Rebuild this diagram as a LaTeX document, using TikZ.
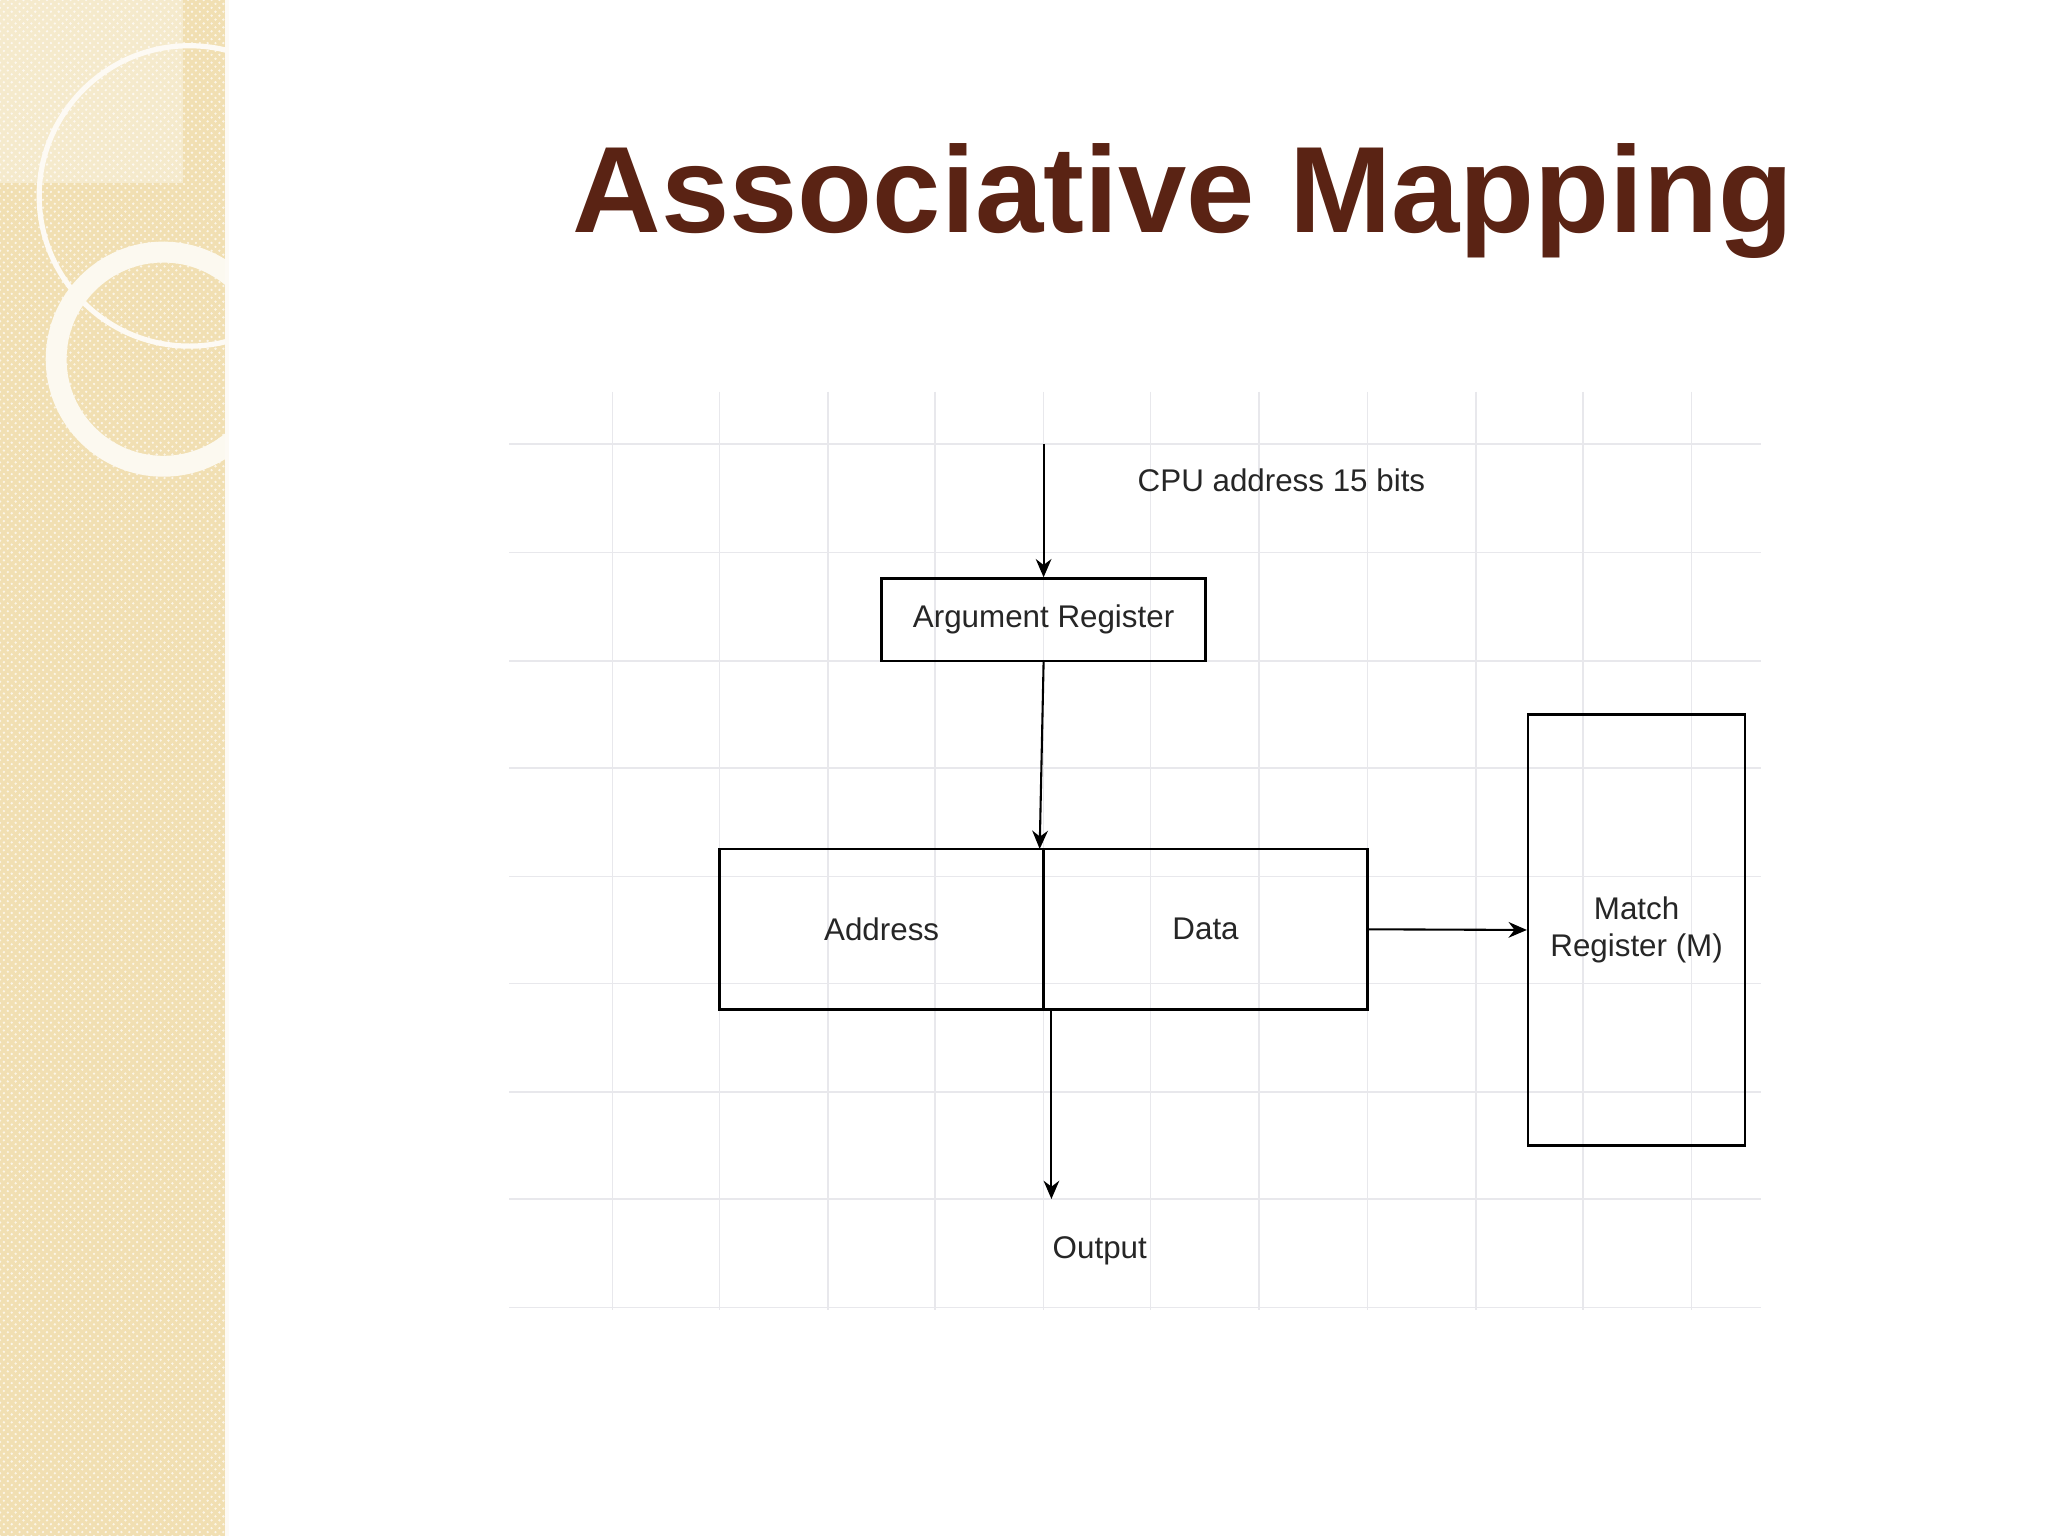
\documentclass[tikz,border=0pt]{standalone}
\usepackage{fontspec}
\setmainfont{Liberation Sans}
\usetikzlibrary{arrows.meta,patterns}
\definecolor{beige}{HTML}{F1DFB2}
\definecolor{titlec}{HTML}{5A2314}
\definecolor{gridc}{HTML}{E8E8EC}
\begin{document}
\begin{tikzpicture}[x=0.5pt,y=-0.5pt,
  box/.style={draw,line width=1pt,inner sep=0pt},
  arr/.style={-{Stealth[length=7pt,width=6pt]},line width=0.8pt},
  lbl/.style={font=\fontsize{12}{14}\selectfont,text=black!85}]
\useasboundingbox (0,0) rectangle (1568,1176);
\fill[white] (0,0) rectangle (1568,1176);
% left panel
\fill[beige] (0,0) rectangle (173,1176);
\fill[pattern=crosshatch dots,pattern color=white!70!beige] (0,0) rectangle (173,1176);
\fill[white,opacity=0.35] (0,0) rectangle (140,140);
\begin{scope}
\clip (0,0) rectangle (173,1176);
\draw[white!85!beige,line width=2pt] (145,150) circle[radius=115];
\draw[white!80!beige,line width=8pt] (125,275) circle[radius=82];
\end{scope}
\draw[white!85!beige,line width=1.5pt] (174,0) -- (174,1176);
% title
\node[font=\fontsize{47}{56}\bfseries\selectfont,text=titlec] (title) at (906,154) {Associative Mapping};
% grid
\foreach \x in {469,551,634,716,799,881,964,1047,1130,1212,1295}
  \draw[gridc,line width=0.6pt] (\x,300) -- (\x,1003);
\foreach \y in {340,423,506,588,671,753,836,918,1001}
  \draw[gridc,line width=0.6pt] (390,\y) -- (1348,\y);
% nodes
\coordinate (cpu) at (799,340);
\node[box,lbl,minimum width=124pt,minimum height=31.5pt] (arg) at (799,474.5) {Argument Register};
\node[box,minimum width=124pt,minimum height=61.5pt] (addr) at (675,711.5) {};
\node[box,minimum width=124pt,minimum height=61.5pt] (data) at (923,711.5) {};
\node[lbl] at (addr.center) {Address};
\node[lbl] at (data.center) {Data};
\node[box,lbl,minimum width=83pt,minimum height=165pt,align=center] (match) at (1253,712) {Match\\Register (M)};
\node[lbl,anchor=west] (cpul) at (864,368) {CPU address 15 bits};
\node[lbl] (out) at (842,958) {Output};
\coordinate (outp) at (805,918);
\draw[arr] (cpu) -- (arg.north);
\draw[arr] (arg.south) -- (796,650);
\draw[arr] (data.east) -- (match.west);
\draw[arr] (805,773) -- (outp);
\end{tikzpicture}
\end{document}
